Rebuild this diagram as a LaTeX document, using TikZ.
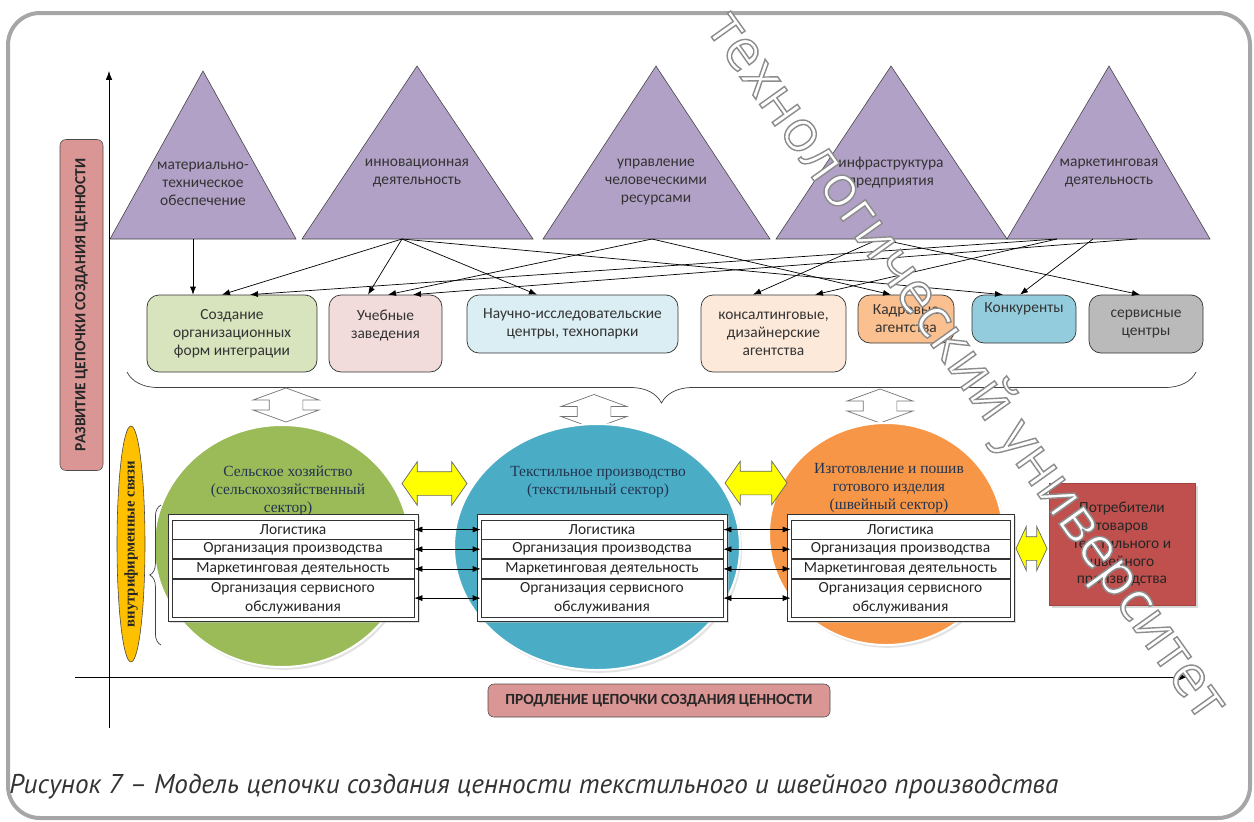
\documentclass[tikz,border=0pt]{standalone}
\usepackage{fontspec}
\setmainfont{Carlito}
\newfontfamily\serfont{Liberation Serif}
\newfontfamily\capfont{PT Sans}
\newfontfamily\wmfont{Open Sans}
\usetikzlibrary{shapes.geometric, shapes.arrows, arrows, arrows.meta, positioning, shadows, decorations.pathreplacing}
\definecolor{framegrey}{HTML}{A6A6A6}
\definecolor{cbpurple}{HTML}{B2A1C7}
\definecolor{cbpink}{HTML}{D99694}
\definecolor{bgreen}{HTML}{D7E4BD}
\definecolor{bpink}{HTML}{F2DCDB}
\definecolor{bblue}{HTML}{DBEEF4}
\definecolor{bpeach}{HTML}{FDE9D9}
\definecolor{borange}{HTML}{FAC090}
\definecolor{bcyan}{HTML}{93CDDD}
\definecolor{bgrey}{HTML}{BABABA}
\definecolor{cgreen}{HTML}{9BBB59}
\definecolor{cblue}{HTML}{4BACC6}
\definecolor{corange}{HTML}{F79646}
\definecolor{cbred}{HTML}{C0504D}
\definecolor{cbyellow}{HTML}{FFFF00}
\definecolor{cbgold}{HTML}{FFC000}
\definecolor{cbnavy}{HTML}{23344F}
\tikzstyle{outerframe} = [draw=framegrey, line width=1mm, rounded corners=8mm]
\tikzstyle{chainaxis} = [->, >={Latex[length=2.2mm, width=1.6mm]}, line width=0.5pt]
\tikzstyle{axislabel} = [rectangle, rounded corners=1.5mm, draw=black!70, fill=cbpink,
inner sep=0pt, text=black!85, font=\bfseries\fontsize{11}{13}\selectfont]
\tikzstyle{tribody} = [fill=cbpurple, draw=black!75, line width=0.4pt]
\tikzstyle{tritext} = [align=center, inner sep=0pt, text=black!80, font=\fontsize{11}{12.8}\selectfont]
\tikzstyle{actor} = [rectangle, rounded corners=3mm, draw=black!80, line width=0.5pt,
align=center, inner sep=0pt, text=black!80, font=\fontsize{11}{12.8}\selectfont]
\tikzstyle{arrow} = [->, >={Latex[length=2mm, width=1.5mm]}, line width=0.5pt]
\tikzstyle{sector} = [ellipse, inner sep=0pt, draw=white, line width=0.5mm,
drop shadow={shadow xshift=0.5mm, shadow yshift=-0.7mm, fill=black!22}]
\tikzstyle{sectortext} = [align=center, inner sep=0pt, text=cbnavy, font=\serfont\fontsize{11}{12.8}\selectfont]
\tikzstyle{valuetable} = [rectangle, draw=black!80, fill=white, line width=0.5pt, inner sep=0pt,
drop shadow={shadow xshift=0.6mm, shadow yshift=-0.6mm, fill=black!25}]
\tikzstyle{tablerow} = [rectangle, draw=black!80, fill=white, line width=0.5pt, inner sep=0pt,
minimum height=4.75mm, align=center, text=black!85, font=\fontsize{11}{13.5}\selectfont]
\tikzstyle{rowlink} = [<->, >={Latex[length=2mm, width=1.5mm]}, line width=0.5pt]
\tikzstyle{fatarrow} = [double arrow, fill=cbyellow, draw=black!60, line width=0.5pt, inner xsep=0pt,
inner ysep=2.875mm, minimum width=0pt, double arrow head extend=2.5mm]
\tikzstyle{hollowarrow} = [double arrow, rotate=90, fill=white, draw=black!55, line width=0.5pt,
inner xsep=0pt, inner ysep=4.125mm, minimum width=0pt, minimum height=8.5mm,
double arrow head extend=4mm, double arrow tip angle=140]
\tikzstyle{consumer} = [rectangle, fill=cbred, draw=cbred!85!black, align=center, inner sep=0pt,
text=black!85, font=\fontsize{11}{12.8}\selectfont,
drop shadow={shadow xshift=0.8mm, shadow yshift=-0.8mm, fill=black!30}]
\tikzstyle{intralinks} = [ellipse, rotate=90, fill=cbgold, draw=black!75, line width=0.4pt, inner sep=0pt,
text=black!85, font=\serfont\bfseries\fontsize{10.5}{12}\selectfont]
\tikzstyle{bigbrace} = [decorate, decoration={brace, amplitude=7.75mm, aspect=0.5}, line width=0.5pt, draw=black!75]
\tikzstyle{smallbrace} = [decorate, decoration={brace, amplitude=2.8mm}, line width=0.5pt, draw=black!75]
\tikzstyle{watermark} = [rotate=-54.5, inner sep=0pt, text=white, font=\wmfont\fontsize{41}{41}\selectfont]

\begin{document}
\begin{tikzpicture}[x=0.25mm, y=-0.25mm]
\useasboundingbox (0,0) rectangle (1254,821);

% ------------------------- frame and axes -------------------------
\draw[outerframe] (8,13) rectangle (1250,818);
\coordinate (ytop) at (109,71);
\coordinate (ybot) at (109,728);
\coordinate (xleft) at (75,677);
\coordinate (xright) at (1188,677);
\draw[chainaxis] (ybot) -- (ytop);
\draw[chainaxis] (xleft) -- (xright);

% ----- node: vertical axis label
\node(ylbl)[axislabel, rotate=90, minimum width=82.75mm, minimum height=10.75mm] at (81.5,305) {РАЗВИТИЕ ЦЕПОЧКИ СОЗДАНИЯ ЦЕННОСТИ};
% ----- node: horizontal axis label
\node(xlbl)[axislabel, minimum width=85.5mm, minimum height=8.25mm] at (659,700.5) {ПРОДЛЕНИЕ ЦЕПОЧКИ СОЗДАНИЯ ЦЕННОСТИ};

% ------------------------- triangles -------------------------
\filldraw[tribody] (110,239) -- (203,71) -- (296,239) -- cycle;
\filldraw[tribody] (302,239) -- (417,66) -- (533,239) -- cycle;
\filldraw[tribody] (543,239) -- (656,66) -- (770,239) -- cycle;
\filldraw[tribody] (776,239) -- (891,66) -- (1007,239) -- cycle;
\filldraw[tribody] (1007,239) -- (1109,66) -- (1210,239) -- cycle;
\node(t1)[tritext] at (203,184) {материально-\\техническое\\обеспечение};
\node(t2)[tritext] at (417,173) {инновационная\\деятельность};
\node(t3)[tritext] at (656,182) {управление\\человеческими\\ресурсами};
\node(t4)[tritext] at (891,173) {инфраструктура\\предприятия};
\node(t5)[tritext] at (1109,173) {маркетинговая\\деятельность};
\coordinate (t1b) at (193,239);
\coordinate (t2b) at (402,239);
\coordinate (t3b) at (652,239);
\coordinate (t4b) at (879,239);
\coordinate (t5a) at (1057,239);
\coordinate (t5b) at (1093,239);
\coordinate (t5c) at (1137,239);

% ------------------------- actors -------------------------
\node(b1)[actor, fill=bgreen, minimum width=42.5mm, minimum height=19.25mm] at (232,333.5) {Создание\\организационных\\форм интеграции};
\node(b2)[actor, fill=bpink, minimum width=28.25mm, minimum height=19.25mm] at (385.5,333.5) {Учебные\\заведения\\\mbox{}};
\node(b3)[actor, fill=bblue, minimum width=52.75mm, minimum height=14.5mm] at (572.5,324) {Научно-исследовательские\\центры, технопарки};
\node(b4)[actor, fill=bpeach, minimum width=36.25mm, minimum height=19.25mm] at (773.5,333.5) {консалтинговые,\\дизайнерские\\агентства};
\node(b5)[actor, fill=borange, minimum width=24mm, minimum height=12mm] at (906,319) {Кадровые\\агентства};
\node(b6)[actor, fill=bcyan, minimum width=26mm, minimum height=12mm] at (1024,319) {Конкуренты\\[3pt]};
\node(b7)[actor, fill=bgrey, minimum width=28.5mm, minimum height=14.5mm] at (1146,324) {сервисные\\центры};

\draw[arrow] (t1b) -- (b1.north -| 193,0);
\draw[arrow] (t2b) -- (b1.north -| 222,0);
\draw[arrow] (t2b) -- (b2.north -| 368,0);
\draw[arrow] (t2b) -- (b3.north -| 537,0);
\draw[arrow] (t2b) -- (b6.north -| 1003,0);
\draw[arrow] (t3b) -- (b2.north -| 388,0);
\draw[arrow] (t3b) -- (b5.north -| 891,0);
\draw[arrow] (t4b) -- (b4.north -| 753,0);
\draw[arrow] (t4b) -- (b7.north -| 1140,0);
\draw[arrow] (t5a) -- (b1.north -| 250,0);
\draw[arrow] (t5a) -- (b4.north -| 815,0);
\draw[arrow] (t5b) -- (b6.north -| 1020,0);
\draw[arrow] (t5c) -- (b2.north -| 413,0);

% brace under the actors
\coordinate (brr) at (1196,372);
\coordinate (brl) at (127,372);
\draw[bigbrace] (brr) -- (brl);

% ----- hollow links between levels
\node(h1)[hollowarrow] at (286,405) {};
\node(h2)[hollowarrow] at (594,411.5) {};
\node(h3)[hollowarrow] at (880,406) {};

% ------------------------- sectors -------------------------
\node(s1)[sector, fill=cgreen, minimum width=64mm, minimum height=60.5mm] at (282,546) {};
\node(s2)[sector, fill=cblue, minimum width=71.5mm, minimum height=61.5mm] at (597,547) {};
\node(s3)[sector, fill=corange, minimum width=58.5mm, minimum height=55.5mm] at (886,534) {};
\node(s1t)[sectortext] at (288,491) {Сельское хозяйство\\(сельскохозяйственный\\сектор)};
\node(s2t)[sectortext] at (598,482) {Текстильное производство\\(текстильный сектор)};
\node(s3t)[sectortext] at (889,488) {Изготовление и пошив\\готового изделия\\(швейный сектор)};

\node(f1)[fatarrow, minimum height=16.25mm, double arrow tip angle=110] at (434.5,483.5) {};
\node(f2)[fatarrow, minimum height=15.5mm, double arrow tip angle=110] at (756,483) {};

% ----- tables of functions
\node(tb1)[valuetable, minimum width=62.5mm, minimum height=26.75mm] at (293,567.5) {};
\node(r11)[tablerow, minimum width=60.5mm] at (293,529.5) {Логистика};
\node(r12)[tablerow, minimum width=60.5mm, below=0pt of r11] {Организация производства};
\node(r13)[tablerow, minimum width=60.5mm, below=0pt of r12] {Маркетинговая деятельность};
\node(r14)[tablerow, minimum width=60.5mm, minimum height=9.5mm, below=0pt of r13] {Организация сервисного\\обслуживания};

\node(tb2)[valuetable, minimum width=62.5mm, minimum height=26.75mm] at (602,567.5) {};
\node(r21)[tablerow, minimum width=60.5mm] at (602,529.5) {Логистика};
\node(r22)[tablerow, minimum width=60.5mm, below=0pt of r21] {Организация производства};
\node(r23)[tablerow, minimum width=60.5mm, below=0pt of r22] {Маркетинговая деятельность};
\node(r24)[tablerow, minimum width=60.5mm, minimum height=9.5mm, below=0pt of r23] {Организация сервисного\\обслуживания};

\node(tb3)[valuetable, minimum width=56.75mm, minimum height=26.75mm] at (900.5,567.5) {};
\node(r31)[tablerow, minimum width=54.75mm] at (900.5,529.5) {Логистика};
\node(r32)[tablerow, minimum width=54.75mm, below=0pt of r31] {Организация производства};
\node(r33)[tablerow, minimum width=54.75mm, below=0pt of r32] {Маркетинговая деятельность};
\node(r34)[tablerow, minimum width=54.75mm, minimum height=9.5mm, below=0pt of r33] {Организация сервисного\\обслуживания};

\draw[rowlink] (r11.east) -- (r21.west);
\draw[rowlink] (r12.east) -- (r22.west);
\draw[rowlink] (r13.east) -- (r23.west);
\draw[rowlink] (r14.east) -- (r24.west);
\draw[rowlink] (r21.east) -- (r31.west);
\draw[rowlink] (r22.east) -- (r32.west);
\draw[rowlink] (r23.east) -- (r33.west);
\draw[rowlink] (r24.east) -- (r34.west);

% ----- consumers
\node(cons)[consumer, minimum width=36.5mm, minimum height=30.5mm] at (1122,544) {Потребители\\товаров\\текстильного и\\швейного\\производства};
\node(f3)[fatarrow, minimum height=7.75mm, double arrow tip angle=130] at (1031.5,548.5) {};

% ----- intra-firm links
\node(intra)[intralinks, minimum width=58mm, minimum height=7mm] at (131,544) {внутрифирменные связи};
\coordinate (bsl) at (161,645);
\coordinate (bsu) at (161,505);
\draw[smallbrace] (bsl) -- (bsu);

% ------------------------- caption -------------------------
\node(cap)[anchor=west, inner sep=0pt, text=black!80, font=\capfont\itshape\fontsize{19.3}{22}\selectfont] at (9,787)
{Рисунок 7 – Модель цепочки создания ценности текстильного и швейного производства};

% ------------------------- watermark -------------------------
\node(wm)[watermark] at (965,367)
{\special{pdf:literal 2 Tr 1 w 0.55 0.55 0.55 RG}технологический университет\special{pdf:literal 0 Tr}};

\end{tikzpicture}
\end{document}
